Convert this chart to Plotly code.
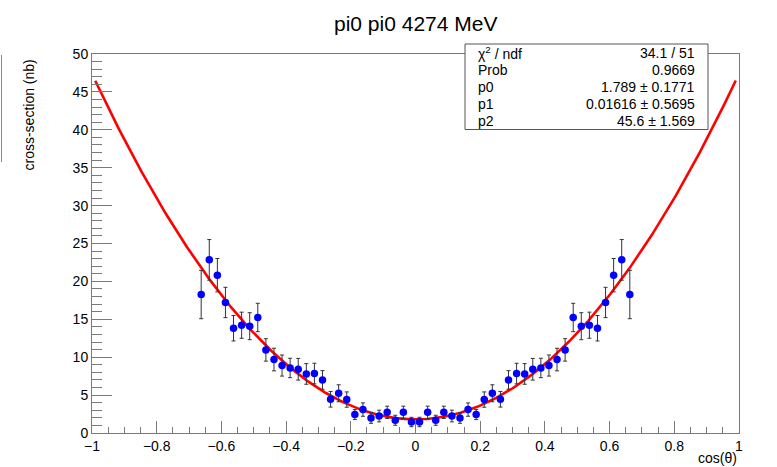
import numpy as np
import plotly.graph_objects as go

# ---------------- data ----------------
cos_theta = [-0.6625, -0.6375, -0.6125, -0.5875, -0.5625, -0.5375, -0.5125, -0.4875,
             -0.4625, -0.4375, -0.4125, -0.3875, -0.3625, -0.3375, -0.3125, -0.2875,
             -0.2625, -0.2375, -0.2125, -0.1875, -0.1625, -0.1375, -0.1125, -0.0875,
             -0.0625, -0.0375, -0.0125,
             0.0125, 0.0375, 0.0625, 0.0875, 0.1125, 0.1375, 0.1625, 0.1875,
             0.2125, 0.2375, 0.2625, 0.2875, 0.3125, 0.3375, 0.3625, 0.3875,
             0.4125, 0.4375, 0.4625, 0.4875, 0.5125, 0.5375, 0.5625, 0.5875,
             0.6125, 0.6375, 0.6625]

xsec = [18.27, 22.84, 20.82, 17.22, 13.82, 14.22, 14.09, 15.24,
        10.96, 9.69, 8.90, 8.58, 8.41, 7.79, 7.84, 7.00,
        4.45, 5.24, 4.41, 2.43, 3.09, 1.98, 2.24, 2.73,
        1.68, 2.73, 1.45,
        1.45, 2.73, 1.68, 2.73, 2.24, 1.98, 3.09, 2.43,
        4.41, 5.24, 4.45, 7.00, 7.84, 7.79, 8.41, 8.58,
        8.90, 9.69, 10.96, 15.24, 14.09, 14.22, 13.82, 17.22,
        20.82, 22.84, 18.27]

xsec_err = [3.19, 2.68, 2.20, 2.00, 1.68, 1.72, 1.78, 1.87,
            1.48, 1.49, 1.39, 1.28, 1.43, 1.36, 1.36, 1.23,
            1.03, 1.12, 1.01, 0.66, 0.88, 0.70, 0.77, 0.81,
            0.66, 0.81, 0.62,
            0.62, 0.81, 0.66, 0.81, 0.77, 0.70, 0.88, 0.66,
            1.01, 1.12, 1.03, 1.23, 1.36, 1.36, 1.43, 1.28,
            1.39, 1.49, 1.48, 1.87, 1.78, 1.72, 1.68, 2.00,
            2.20, 2.68, 3.19]

# fit parameters (pol2)
p0, p1, p2 = 1.789, 0.01616, 45.6
fit_range = [-0.99, 0.99]

stats_labels = ["\u03c7<sup>2</sup> / ndf", "Prob", "p0", "p1", "p2"]
stats_values = ["34.1 / 51", "0.9669", "1.789 \u00b1 0.1771",
                "0.01616 \u00b1 0.5695", "45.6 \u00b1 1.569"]

title_text = "pi0 pi0 4274 MeV"
xtitle = "cos(\u03b8)"
ytitle = "cross-section (nb)"

# ---------------- layout geometry ----------------
W, H = 777, 467
L, R, T, B = 92, 38, 54, 34
PW, PH = W - L - R, H - T - B
FONT = "Liberation Sans, Arial, Helvetica, sans-serif"
AXC = "#7a7a7a"


def px(xp):
    return (xp - L) / PW


def py(yp):
    return (H - B - yp) / PH


fx = np.linspace(fit_range[0], fit_range[1], 400)
fy = p0 + p1 * fx + p2 * fx ** 2

fig = go.Figure()
fig.add_trace(go.Scatter(x=fx, y=fy, mode="lines",
                         line=dict(color="#ff0000", width=2.6),
                         hoverinfo="skip", showlegend=False))
fig.add_trace(go.Scatter(
    x=cos_theta, y=xsec, mode="markers",
    marker=dict(color="#0000ff", size=7.5, line=dict(width=0)),
    error_y=dict(type="data", array=xsec_err, visible=True,
                 color="#333333", thickness=1, width=2),
    showlegend=False))

annotations = [
    dict(text=title_text, xref="paper", yref="paper", x=0.5, y=py(23),
         xanchor="center", yanchor="middle", showarrow=False,
         font=dict(family=FONT, size=21, color="black")),
    dict(text=xtitle, xref="paper", yref="paper", x=px(739), y=py(458),
         xanchor="right", yanchor="middle", showarrow=False,
         font=dict(family=FONT, size=14, color="black")),
    dict(text=ytitle, xref="paper", yref="paper", x=px(28), y=py(58),
         xanchor="center", yanchor="top", textangle=-90, showarrow=False,
         font=dict(family=FONT, size=14, color="black")),
]

row_y = [53.3, 70.3, 87.3, 104.3, 121.3]
for lab, val, yy in zip(stats_labels, stats_values, row_y):
    annotations.append(dict(text=lab, xref="paper", yref="paper", x=px(476), y=py(yy),
                            xanchor="left", yanchor="middle", showarrow=False,
                            font=dict(family=FONT, size=14, color="black")))
    annotations.append(dict(text=val, xref="paper", yref="paper", x=px(697), y=py(yy),
                            xanchor="right", yanchor="middle", showarrow=False,
                            font=dict(family=FONT, size=14, color="black")))

shapes = [
    dict(type="rect", xref="paper", yref="paper", x0=px(465), x1=px(708),
         y0=py(129.5), y1=py(44), fillcolor="white",
         line=dict(color="#555555", width=1), layer="above"),
    dict(type="line", xref="paper", yref="paper", x0=px(1.5), x1=px(1.5),
         y0=py(55), y1=py(162), line=dict(color="#888888", width=1)),
]

fig.update_layout(
    width=W, height=H,
    margin=dict(l=L, r=R, t=T, b=B, pad=0),
    paper_bgcolor="white", plot_bgcolor="white",
    font=dict(family=FONT, size=14, color="black"),
    showlegend=False,
    annotations=annotations,
    shapes=shapes,
    xaxis=dict(range=[-1, 1], dtick=0.2, tick0=-1, showgrid=False, zeroline=False,
               showline=True, linecolor=AXC, linewidth=1, mirror=True,
               ticks="inside", ticklen=12, tickcolor=AXC, tickwidth=1,
               tickfont=dict(family=FONT, size=14, color="black"),
               minor=dict(dtick=0.05, tick0=-1, ticks="inside", ticklen=6,
                          tickcolor=AXC, tickwidth=1, showgrid=False)),
    yaxis=dict(range=[0, 50], dtick=5, tick0=0, showgrid=False, zeroline=False,
               showline=True, linecolor=AXC, linewidth=1, mirror=True,
               ticks="inside", ticklen=20, tickcolor=AXC, tickwidth=1,
               tickfont=dict(family=FONT, size=14, color="black"),
               minor=dict(dtick=1, tick0=0, ticks="inside", ticklen=10,
                          tickcolor=AXC, tickwidth=1, showgrid=False)),
)

fig.write_html("out.html")
